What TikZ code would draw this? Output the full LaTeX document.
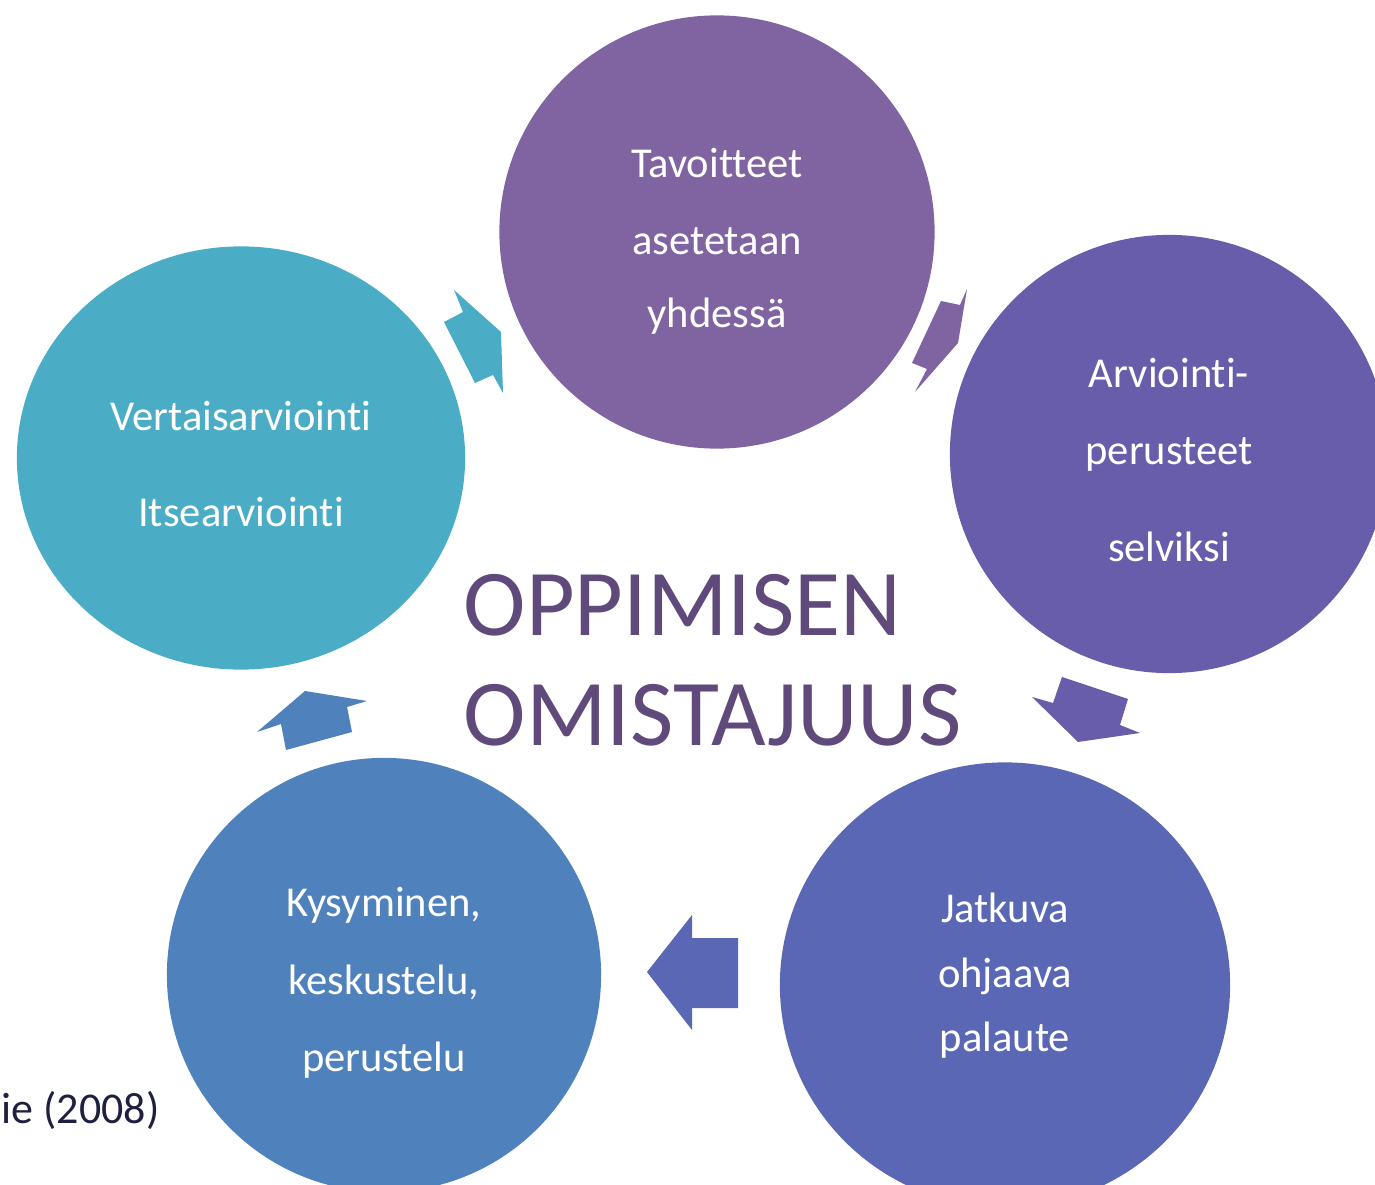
\documentclass[tikz,border=0pt]{standalone}
\usepackage{fontspec}
\setmainfont{Carlito}[Ligatures=NoCommon]
\usetikzlibrary{shapes.geometric}
\definecolor{cteal}{HTML}{4BACC6}
\definecolor{cplum}{HTML}{8064A2}
\definecolor{cviolet}{HTML}{685DAA}
\definecolor{cindigo}{HTML}{5A67B4}
\definecolor{cblue}{HTML}{4F81BD}
\definecolor{ctitle}{HTML}{604A7B}
\definecolor{cnote}{HTML}{1F2040}
\tikzset{
  every picture/.style={x=0.01cm, y=-0.01cm},
  disc/.style={ellipse, fill=#1, draw=none, inner sep=0pt},
  disc/.default=cblue,
  disctext/.style={text=white, align=center, inner sep=0pt, font=\fontsize{12.1}{22}\selectfont},
  blockarrow/.style={fill=#1, draw=none},
  title/.style={text=ctitle, inner sep=0pt, font=\fontsize{26.8}{31}\selectfont},
  note/.style={text=cnote, inner sep=0pt, font=\fontsize{12.5}{15}\selectfont},
}

\begin{document}
\begin{tikzpicture}
  \useasboundingbox (0,0) rectangle (1375,1185);
  \clip (0,0) rectangle (1375,1185);
  % circles of the cycle
  \node[disc=cplum, minimum width=4.35cm, minimum height=4.33cm] (goals) at (717,232) {};
  \node[disc=cviolet, minimum width=4.38cm, minimum height=4.38cm] (criteria) at (1169,454) {};
  \node[disc=cindigo, minimum width=4.5cm, minimum height=4.45cm] (feedback) at (1005,985) {};
  \node[disc=cblue, minimum width=4.34cm, minimum height=4.34cm] (talk) at (384,975) {};
  \node[disc=cteal, minimum width=4.48cm, minimum height=4.23cm] (self) at (241,458) {};
  % texts in the circles
  \node[disctext, yshift=-0.09cm] (goals-text) at (goals) {Tavoitteet\\asetetaan\\[-1.4pt]yhdessä};
  \node[disctext, yshift=-0.06cm] (criteria-text) at (criteria) {Arviointi-\\perusteet\\[5.4pt]selviksi};
  \node[disctext, yshift=0.09cm] (feedback-text) at (feedback) {Jatkuva\\[-3.7pt]ohjaava\\[-3.7pt]palaute};
  \node[disctext, yshift=-0.08cm] (talk-text) at (talk) {Kysyminen,\\keskustelu,\\perustelu};
  \node[disctext, yshift=-0.06cm] (self-text) at (self) {Vertaisarviointi\\[5.4pt]Itsearviointi};
  % block arrows between the circles
  \fill[blockarrow=cteal] (454,290) -- (463,312) -- (444,322) -- (475,383) -- (493,375)
    -- (503,393) -- (501,332) -- cycle;
  \fill[blockarrow=cplum] (967,289) -- (960,305) -- (941,301) -- (912,363) -- (927,369)
    -- (915,392) -- (958,343) -- cycle;
  \fill[blockarrow=cviolet] (1032,697) -- (1053,703) -- (1062,677) -- (1128,699) -- (1120,725)
    -- (1140,733) -- (1078,742) -- cycle;
  \fill[blockarrow=cindigo] (647,972) -- (692,915) -- (692,938) -- (738,938) -- (738,1008)
    -- (692,1008) -- (692,1030) -- cycle;
  \fill[blockarrow=cblue] (257,732) -- (305,691) -- (367,701) -- (347,707) -- (352,732)
    -- (286,750) -- (281,724) -- cycle;
  % centre title and source
  \node[title, anchor=base west] (title1) at (463,635) {OPPIMISEN};
  \node[title, anchor=base west] (title2) at (463,745) {OMISTAJUUS};
  \node[note, anchor=base west] (source) at (1,1123) {ie (2008)};
\end{tikzpicture}
\end{document}
